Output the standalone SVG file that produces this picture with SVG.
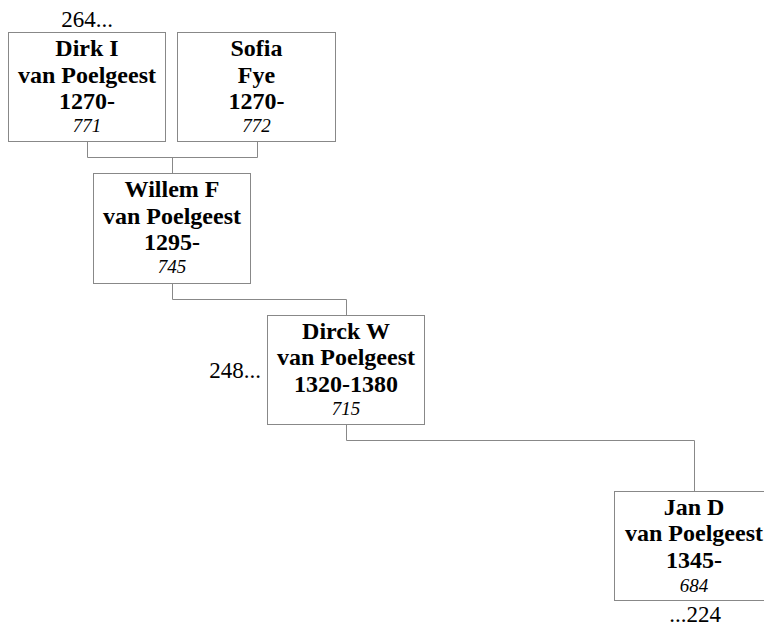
<svg xmlns="http://www.w3.org/2000/svg" width="764" height="626" viewBox="0 0 764 626">
<style>
.box{fill:#fff;stroke:#888;stroke-width:1}
.c{fill:none;stroke:#888;stroke-width:1}
text{font-family:"Liberation Serif","Times New Roman",serif;fill:#000;text-anchor:middle}
.b{font-weight:bold;font-size:24px}
.i{font-style:italic;font-size:19px}
.r{font-size:23px}
</style>
<rect width="764" height="626" fill="#fff"/>
<g id="connectors">
<path class="c" d="M87.5 141.5V157.5H257.5V141.5M172.5 157.5V173.5"/>
<path class="c" d="M172.5 283.5V299.5H346.5V315.5"/>
<path class="c" d="M346.5 424.5V440.5H694.5V491.5"/>
</g>
<g id="n771">
<rect class="box" x="8.5" y="32.5" width="157" height="109"/>
<text class="b" x="87" y="56">Dirk I</text>
<text class="b" x="87" y="82.5">van Poelgeest</text>
<text class="b" x="87" y="109">1270-</text>
<text class="i" x="87" y="132">771</text>
</g>
<g id="n772">
<rect class="box" x="177.5" y="32.5" width="158" height="109"/>
<text class="b" x="256.5" y="56">Sofia</text>
<text class="b" x="256.5" y="82.5">Fye</text>
<text class="b" x="256.5" y="109">1270-</text>
<text class="i" x="256.5" y="132">772</text>
</g>
<g id="n745">
<rect class="box" x="93.5" y="173.5" width="157" height="110"/>
<text class="b" x="172" y="197">Willem F</text>
<text class="b" x="172" y="223.5">van Poelgeest</text>
<text class="b" x="172" y="250">1295-</text>
<text class="i" x="172" y="273">745</text>
</g>
<g id="n715">
<rect class="box" x="267.5" y="315.5" width="157" height="109"/>
<text class="b" x="346" y="338.5">Dirck W</text>
<text class="b" x="346" y="365">van Poelgeest</text>
<text class="b" x="346" y="391.5">1320-1380</text>
<text class="i" x="346" y="415">715</text>
</g>
<g id="n684">
<rect class="box" x="614.5" y="491.5" width="158" height="109"/>
<text class="b" x="694" y="514.5">Jan D</text>
<text class="b" x="694" y="541">van Poelgeest</text>
<text class="b" x="694" y="568">1345-</text>
<text class="i" x="694" y="592">684</text>
</g>
<g id="labels">
<text class="r" x="87" y="26.5">264...</text>
<text class="r" x="261" y="378" style="text-anchor:end">248...</text>
<text class="r" x="695" y="621.5">...224</text>
</g>
</svg>
